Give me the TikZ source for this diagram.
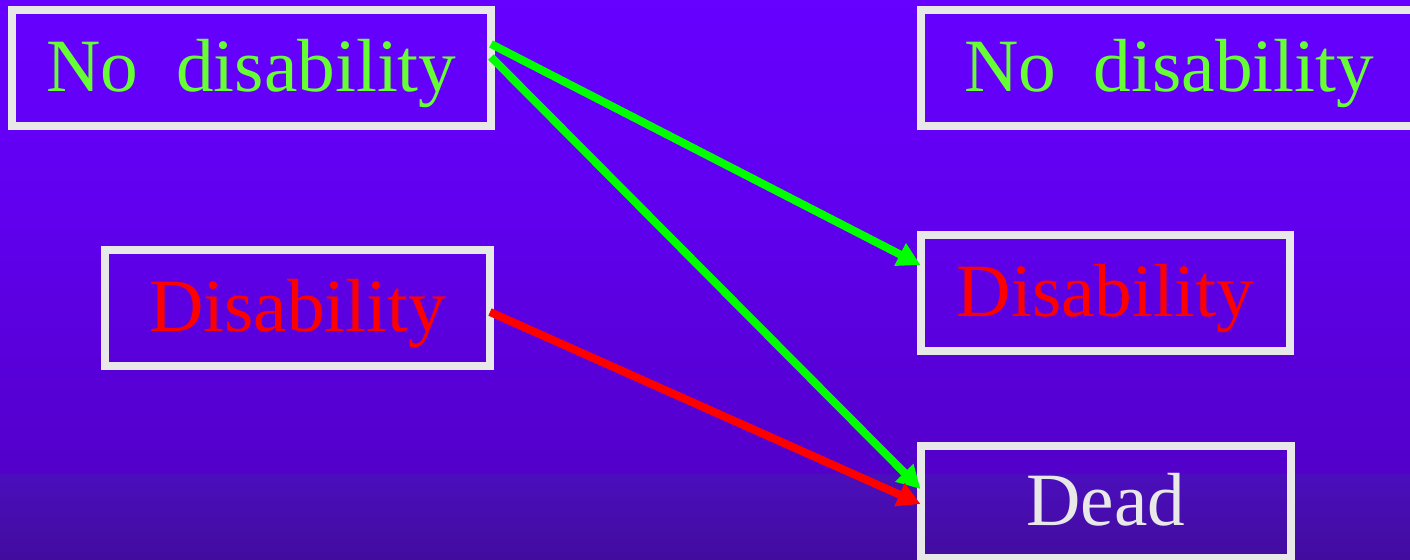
\documentclass[tikz,border=0pt]{standalone}
\usepackage{fontspec}
\setmainfont{LiberationSerif-Regular.ttf}
\newfontfamily\labelfont{LiberationSerif-Regular.ttf}
\usetikzlibrary{arrows.meta}

\definecolor{bgA}{RGB}{102,0,255}
\definecolor{bgB}{RGB}{97,0,240}
\definecolor{bgC}{RGB}{83,0,202}
\definecolor{bgD}{RGB}{75,14,188}
\definecolor{bgE}{RGB}{66,12,158}
\definecolor{framegray}{RGB}{232,232,232}
\definecolor{labelgreen}{RGB}{102,255,51}
\definecolor{labelred}{RGB}{255,0,0}
\definecolor{flowgreen}{RGB}{0,255,0}
\definecolor{flowred}{RGB}{255,0,0}

\begin{document}
\begin{tikzpicture}[x=1bp, y=-1bp,
  state/.style={draw=framegray, line width=8bp, inner sep=0pt, outer sep=0pt,
    text height=55bp, text depth=8bp,
    font=\labelfont\fontsize{75.3bp}{90bp}\selectfont},
  flow/.style={line width=8bp, -{Triangle[length=23bp, width=24bp]}}]

\useasboundingbox (0,0) rectangle (1410,560);

% background with a vertical gradient
\shade[top color=bgA, bottom color=bgB] (0,0) rectangle (1410,200.5);
\shade[top color=bgB, bottom color=bgC] (0,200) rectangle (1410,475);
\shade[top color=bgD, bottom color=bgE] (0,474.7) rectangle (1410,560);

\clip (0,0) rectangle (1410,560);

% states, current year (left) and next year (right)
\node[state, text=labelgreen, minimum width=479bp, minimum height=116bp]
  (n1) at (251.5,68) {No\ \ disability};
\node[state, text=labelred, minimum width=384.5bp, minimum height=116bp]
  (d1) at (297.75,308) {Disability};
\node[state, text=labelgreen, minimum width=497bp, minimum height=116bp]
  (n2) at (1169,68) {No\ \ disability};
\node[state, text=labelred, minimum width=369.5bp, minimum height=115.5bp]
  (d2) at (1105.25,293.25) {Disability};
\node[state, text=framegray, minimum width=370.5bp, minimum height=112.5bp]
  (dead) at (1105.75,501.75) {Dead};

% transitions
\draw[flow, flowgreen] ([yshift=-34bp]n1.north east) -- ([yshift=-29.5bp]d2.north west);
\draw[flow, flowgreen] ([yshift=-47bp]n1.north east) -- ([yshift=-43.5bp]dead.north west);
\draw[flow, flowred] ([yshift=-4bp]d1.east) -- ([yshift=-58.5bp]dead.north west);

\end{tikzpicture}
\end{document}
